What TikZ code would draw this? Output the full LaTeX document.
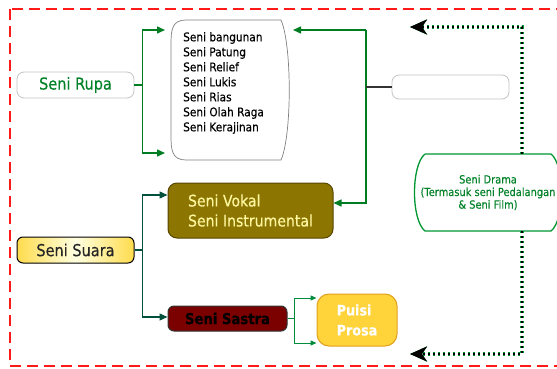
\documentclass[tikz,border=0pt]{standalone}
\usepackage{fontspec}
\setmainfont{DejaVu Sans}[FakeStretch=0.88,FakeBold=0.35]
\usetikzlibrary{arrows.meta}
\definecolor{frame}{RGB}{255,25,25}
\definecolor{gtext}{RGB}{0,130,40}
\definecolor{gline}{RGB}{0,125,35}
\definecolor{tline}{RGB}{0,80,60}
\definecolor{sline}{RGB}{0,140,60}
\definecolor{olive}{RGB}{140,117,0}
\definecolor{olivedk}{RGB}{85,70,0}
\definecolor{vtext}{RGB}{255,248,160}
\definecolor{maroon}{RGB}{123,0,0}
\definecolor{gold}{RGB}{255,211,58}
\definecolor{golddk}{RGB}{225,160,30}
\definecolor{lgray}{RGB}{195,195,195}
\definecolor{dgreen}{RGB}{0,150,50}
\tikzset{
  softbox/.style={draw=lgray, line width=0.8pt, fill=white, rounded corners=7pt, inner sep=0pt},
  garrow/.style={draw=gline, line width=1.5pt, -{Triangle[length=8pt,width=7pt]}},
  tarrow/.style={draw=tline, line width=1.3pt, -{Triangle[length=8pt,width=7pt]}},
  sarrow/.style={draw=sline, line width=1pt, -{Triangle[length=6pt,width=5pt]}},
  dotarrow/.style={draw=black, line width=2.4pt, dash pattern=on 2.2pt off 2.8pt,
     preaction={draw=dgreen, line width=3.4pt, dash pattern=on 2.2pt off 2.8pt},
     -{Stealth[length=17pt,width=15pt,inset=5pt]}},
}
\begin{document}
\begin{tikzpicture}[x=1pt,y=-1pt]
\useasboundingbox (0,0) rectangle (557,369);
% red dashed frame
\draw[frame, line width=2.6pt, dash pattern=on 11pt off 6pt] (10,9) rectangle (620,366);

% Seni Rupa
\node[softbox, minimum width=117pt, minimum height=26pt, text=gtext,
      font=\fontsize{16.5}{18}\selectfont] (rupa) at (75.5,85) {Seni Rupa};

% list box
\draw[draw=black!50, line width=0.7pt, fill=white]
  (186,20) -- (281,20) .. controls (292,45) and (292,135) .. (281,160)
  -- (186,160) .. controls (172,160) and (171,150) .. (171,136)
  -- (171,44) .. controls (171,30) and (172,20) .. (186,20);
\node[anchor=west, align=left, inner sep=0pt, font=\fontsize{12}{15}\selectfont] (list) at (183,83)
  {Seni bangunan\\Seni Patung\\Seni Relief\\Seni Lukis\\Seni Rias\\Seni Olah Raga\\Seni Kerajinan};
\coordinate (lt) at (165,30);
\coordinate (lb) at (165,153);
\coordinate (lr) at (293,30);
\coordinate (rv) at (366,30);

% blank box
\node[softbox, minimum width=117pt, minimum height=24pt] (blank) at (450.5,87) {};

% Seni Suara
\node[draw=black, line width=1pt, rounded corners=6pt, minimum width=117pt, minimum height=26pt,
      left color=yellow!60!orange!70, right color=yellow!60!orange!70, middle color=yellow!12,
      text=black!85, font=\fontsize{16.5}{18}\selectfont] (suara) at (75.5,250) {Seni Suara};

% Seni Vokal
\node[draw=olivedk, line width=1pt, fill=olive, rounded corners=9pt, minimum width=165pt,
      minimum height=55pt, align=left, text=vtext, font=\fontsize{16}{20}\selectfont]
      (vokal) at (250.5,210.5) {Seni Vokal\\Seni Instrumental};

% Seni Sastra
\node[draw=black!80, line width=1pt, fill=maroon, rounded corners=6pt, minimum width=119pt,
      minimum height=25pt, text=black, font=\bfseries\fontsize{15}{18}\selectfont]
      (sastra) at (227.5,318.5) {Seni Sastra};

% Puisi Prosa
\node[draw=golddk, line width=1pt, fill=gold, rounded corners=12pt, minimum width=80pt,
      minimum height=52pt, align=left, text=white, font=\bfseries\fontsize{14.5}{20}\selectfont]
      (puisi) at (357,320) {Puisi\\Prosa};

% Seni Drama
\draw[dgreen, line width=1.3pt, fill=white]
  (425,154) -- (551,154) .. controls (565,165) and (565,220) .. (551,231)
  -- (425,231) .. controls (411,220) and (411,165) .. (425,154);
\node[align=center, text=gtext, inner sep=0pt, minimum width=150pt, minimum height=77pt,
      font=\fontsize{11.2}{12.6}\selectfont]
      (drama) at (488,192.5) {Seni Drama\\(Termasuk seni Pedalangan\\\& Seni Film)};

% connectors: Seni Rupa
\draw[gline, line width=1.5pt] (rupa.east) -- ++(8,0) coordinate (rj);
\draw[garrow] (rj) |- (lt);
\draw[garrow] (rj) |- (lb);

% connectors: right branch
\draw[garrow] (rv) |- ([yshift=7.5pt]vokal.east);
\draw[garrow] (rv) -- (lr);
\draw[black!80, line width=1.3pt] (rv |- blank.west) -- (blank.west);

% connectors: Seni Suara
\draw[tline, line width=1.3pt] (suara.east) -- ++(8,0) coordinate (sj);
\draw[tarrow] (sj) |- ([yshift=15.5pt]vokal.west);
\draw[tarrow] (sj) |- ([yshift=1.5pt]sastra.west);

% connectors: Seni Sastra
\draw[sline, line width=1pt] (sastra.east) -- ++(7,0) coordinate (tj);
\draw[sarrow] (tj) |- ([yshift=22pt]puisi.west);
\draw[sarrow] (tj) |- ([yshift=-23pt]puisi.west);

% dotted arrows from Seni Drama
\coordinate (tt) at (410,27);
\coordinate (bt) at (410,354);
\draw[dotarrow] ([xshift=34pt]drama.north) |- (tt);
\draw[dotarrow] ([xshift=34pt]drama.south) |- (bt);
\end{tikzpicture}
\end{document}
